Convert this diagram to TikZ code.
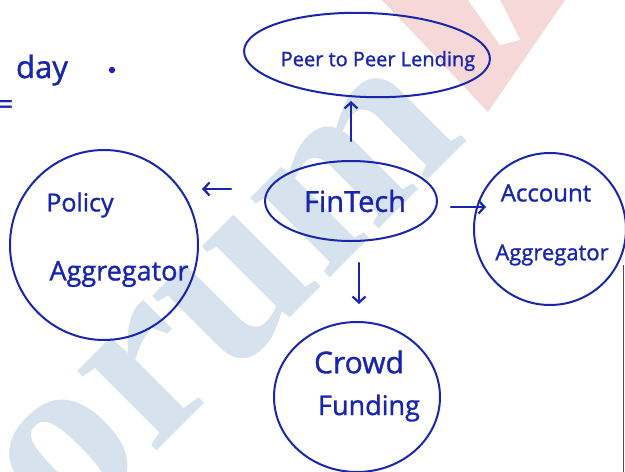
\documentclass[tikz,border=0pt]{standalone}
\usepackage{fontspec}
\setmainfont{Open Sans}
\newfontfamily\handfont{Open Sans}[FakeBold=1.2]
\newfontfamily\wmfont{Liberation Serif}
\usetikzlibrary{arrows.meta,shapes.geometric,calc}
\definecolor{ink}{RGB}{25,38,172}
\definecolor{wmblue}{RGB}{214,226,238}
\definecolor{wmred}{RGB}{246,216,216}
\tikzset{
  bubble/.style={draw=ink, line width=2pt, ellipse, inner sep=0pt},
  arr/.style={draw=ink, line width=2.2pt, line cap=round, -{Straight Barb[length=6pt,width=13pt,line width=2.2pt]}},
  hand/.style={text=ink, inner sep=0pt, font=\handfont},
}
\newcommand{\fs}[1]{\fontsize{#1}{#1}\selectfont}
\begin{document}
\begin{tikzpicture}[x=1pt,y=-1pt]
\useasboundingbox (0,0) rectangle (625,472);
\fill[white] (0,0) rectangle (625,472);

% background watermark
\fill[wmred] (382,0) -- (565,0) -- (488,112) -- cycle;
\fill[white] (468,0) -- (500,0) -- (520,40) -- (500,45) -- cycle;
\node[text=wmblue, rotate=45, inner sep=0pt] (wm) at (228,300) {\wmfont\bfseries\fs{245}orum};

% side notes
\node[hand] (day) at (42,70) {\fs{31}day};
\fill[ink] (112,70) circle (3.2pt);
\node[hand, anchor=west] (eq) at (-3,107) {\fs{28}=};

% bubbles
\node[bubble, minimum width=246pt, minimum height=84pt, rotate=-2] (p2p) at (367,55) {};
\node[bubble, minimum width=172pt, minimum height=80pt] (fin) at (351,201) {};
\node[bubble, minimum width=188pt, minimum height=190pt] (pol) at (104,245) {};
\node[bubble, minimum width=152pt, minimum height=152pt] (acc) at (550,229) {};
\node[bubble, minimum width=166pt, minimum height=150pt] (crowd) at (357,397) {};

% labels
\node[hand] (p2pt) at (378,61) {\fs{20}Peer to Peer Lending};
\node[hand] (fint) at (355,201) {\fs{29}FinTech};
\node[hand] (pol1) at (80,205) {\fs{25}Policy};
\node[hand] (pol2) at (119,274) {\fs{27}Aggregator};
\node[hand] (acc1) at (546,193) {\fs{24}Account};
\node[hand] (acc2) at (552,255) {\fs{22}Aggregator};
\node[hand] (crw1) at (359,362) {\fs{30}Crowd};
\node[hand] (crw2) at (369,408) {\fs{27}Funding};

% connectors
\draw[arr, shorten <=19pt, shorten >=3pt] (fin.north) -- (fin.north |- p2p.south);
\draw[arr, shorten <=33pt, shorten >=3pt] ([yshift=12pt]fin.west) -- ([yshift=12pt]fin.west -| pol.east);
\draw[arr, shorten <=13pt, shorten >=-13pt] ([yshift=-6pt]fin.east) -- ([yshift=-6pt]fin.east -| acc.west);
\draw[arr, shorten <=21pt, shorten >=17pt] ([xshift=8pt]fin.south) -- ([xshift=8pt]fin.south |- crowd.north);

% board edge
\draw[black!70, line width=1.2pt] (623.5,265) -- (623.5,472);
\end{tikzpicture}
\end{document}
